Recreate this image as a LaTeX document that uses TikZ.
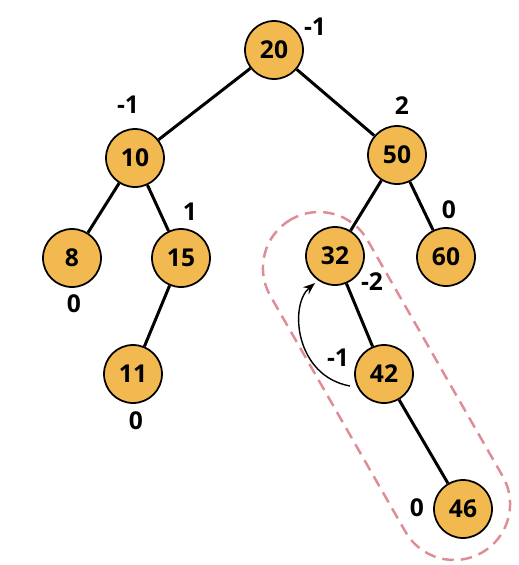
\documentclass[tikz,border=0pt]{standalone}
\usepackage{fontspec}
\setmainfont{Open Sans}
\usetikzlibrary{arrows.meta, calc}
\definecolor{nodefill}{RGB}{242,185,80}
\definecolor{dashpink}{RGB}{222,140,150}
\tikzset{
  vtx/.style ={circle, draw, line width=1pt, fill=nodefill, minimum size=1.16cm,
               inner sep=0pt, font=\fontsize{14}{16}\selectfont\bfseries},
  link/.style={line width=1.7pt},
  bal/.style ={font=\fontsize{14}{16}\selectfont\bfseries, inner sep=1pt},
  arr/.style ={-{Stealth[length=2.4mm]}, line width=0.8pt},
  grp/.style ={draw=dashpink, dash pattern=on 2.3mm off 1.4mm, line width=1.4pt},
}

\begin{document}
\begin{tikzpicture}[x=0.02cm, y=-0.02cm]
  \useasboundingbox (0,0) rectangle (518,565);

  % rotation group (behind the tree)
  \begin{scope}[shift={(386.5,386)}, rotate=-60.2]
    \draw[grp, rounded corners=1.12cm] (-192,-56) rectangle (192,56);
  \end{scope}

  % tree
  \node[vtx] (n20) at (274,50)  {20};
  \node[vtx] (n10) at (135,158) {10};
  \node[vtx] (n50) at (397,155) {50};
  \node[vtx] (n8)  at (72,258)  {8};
  \node[vtx] (n15) at (181,258) {15};
  \node[vtx] (n32) at (335,256) {32};
  \node[vtx] (n60) at (446,257) {60};
  \node[vtx] (n11) at (133,374) {11};
  \node[vtx] (n42) at (384,374) {42};
  \node[vtx] (n46) at (463,509) {46};

  \draw[link] (n20) -- (n10);
  \draw[link] (n20) -- (n50);
  \draw[link] (n10) -- (n8);
  \draw[link] (n10) -- (n15);
  \draw[link] (n15) -- (n11);
  \draw[link] (n50) -- (n32);
  \draw[link] (n50) -- (n60);
  \draw[link] (n32) -- (n42);
  \draw[link] (n42) -- (n46);

  % balance factors
  \node[bal] (b20) at (315,27)  {-1};
  \node[bal] (b10) at (128,105) {-1};
  \node[bal] (b50) at (402,106) {2};
  \node[bal] (b15) at (190,212) {1};
  \node[bal] (b8)  at (74,304)  {0};
  \node[bal] (b60) at (449,210) {0};
  \node[bal] (b32) at (372,282) {-2};
  \node[bal] (b42) at (338,358) {-1};
  \node[bal] (b11) at (136,421) {0};
  \node[bal] (b46) at (417,508) {0};

  % rotation arrow
  \coordinate (rotS) at ($(n42)+(-34,12)$);
  \coordinate (rotE) at ($(n32)+(-20,27)$);
  \draw[arr] (rotS) .. controls +(-55,-10) and +(-26,22) .. (rotE);
\end{tikzpicture}
\end{document}
